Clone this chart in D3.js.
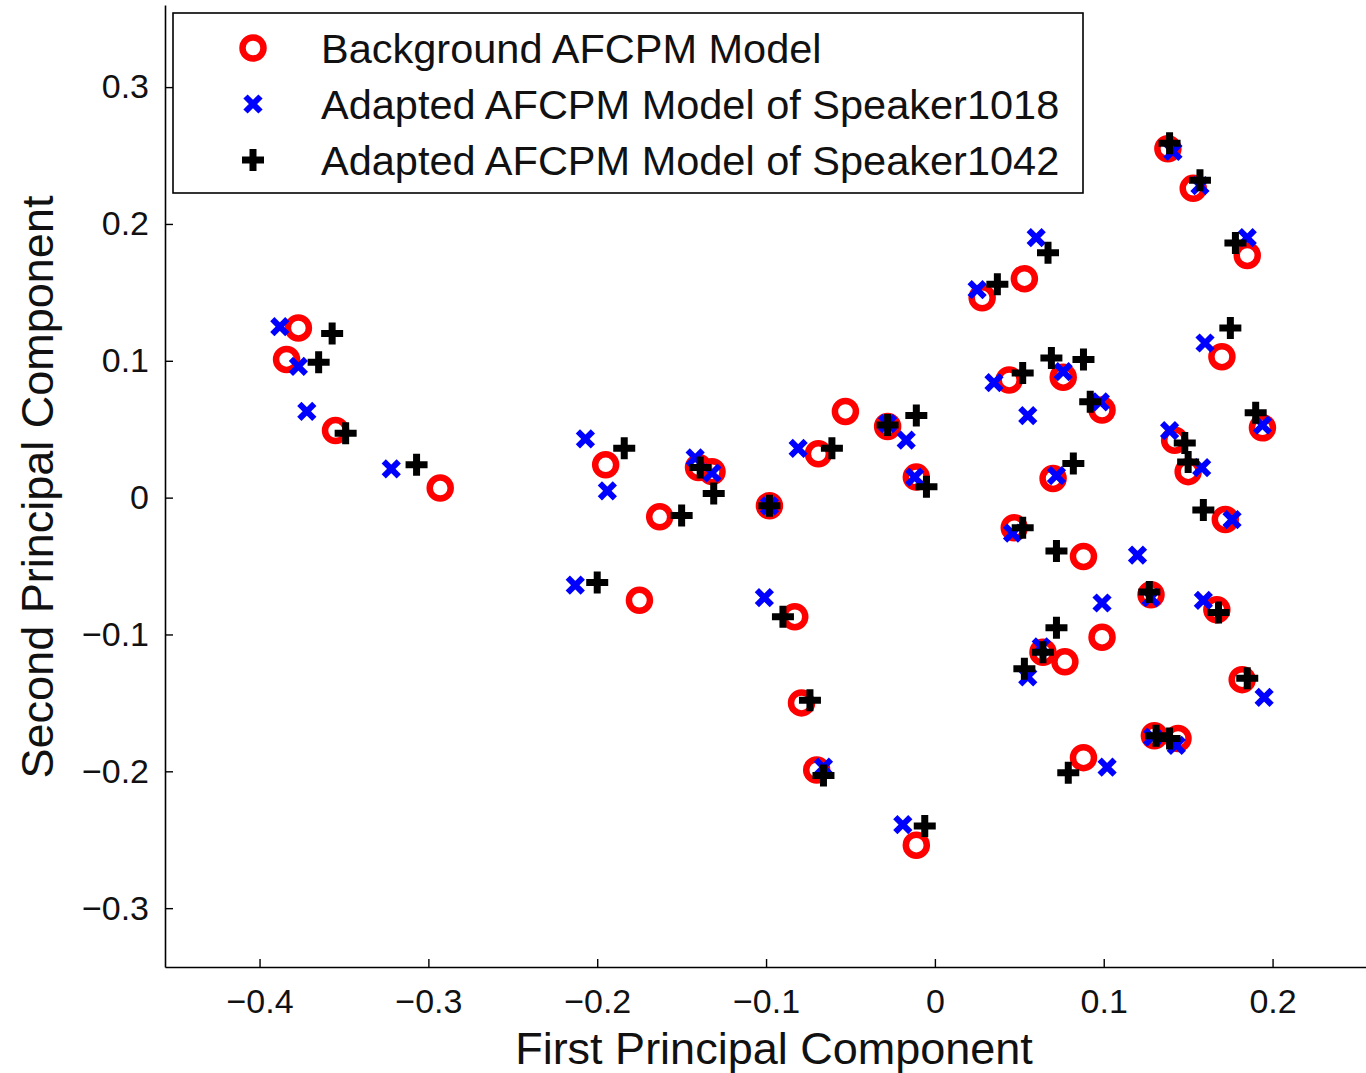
<!DOCTYPE html>
<html>
<head>
<meta charset="utf-8">
<script src="https://cdn.jsdelivr.net/npm/d3@7"></script>
<style>
  html, body { margin: 0; padding: 0; background: #fff; }
  svg { display: block; font-family: "Liberation Sans", Arial, sans-serif; }
</style>
</head>
<body>
<div id="chart"></div>
<script>
// series values, [first PC, second PC]
const backgroundModel = [
  [-0.377, 0.124], [-0.384, 0.101], [-0.355, 0.049], [-0.293, 0.007],
  [-0.195, 0.024], [-0.163, -0.014], [-0.175, -0.075], [-0.140, 0.022],
  [-0.132, 0.019], [-0.098, -0.006], [-0.069, 0.032], [-0.053, 0.063],
  [-0.028, 0.052], [-0.011, 0.015], [-0.083, -0.087], [-0.079, -0.150],
  [-0.070, -0.199], [-0.011, -0.254], [0.028, 0.146], [0.053, 0.160],
  [0.138, 0.255], [0.153, 0.226], [0.185, 0.177], [0.044, 0.086],
  [0.076, 0.088], [0.099, 0.064], [0.170, 0.103], [0.194, 0.051],
  [0.142, 0.042], [0.150, 0.019], [0.070, 0.014], [0.047, -0.022],
  [0.088, -0.043], [0.172, -0.016], [0.128, -0.071], [0.167, -0.082],
  [0.064, -0.113], [0.077, -0.120], [0.099, -0.102], [0.182, -0.133],
  [0.130, -0.174], [0.144, -0.176], [0.088, -0.190]
];

const speaker1018 = [
  [-0.388, 0.125], [-0.377, 0.096], [-0.372, 0.063], [-0.322, 0.021],
  [-0.207, 0.043], [-0.194, 0.005], [-0.213, -0.064], [-0.142, 0.029],
  [-0.132, 0.018], [-0.098, -0.006], [-0.101, -0.073], [-0.081, 0.036],
  [-0.028, 0.054], [-0.017, 0.042], [-0.012, 0.015], [-0.066, -0.197],
  [-0.019, -0.239], [0.025, 0.152], [0.060, 0.190], [0.141, 0.253],
  [0.157, 0.228], [0.185, 0.190], [0.160, 0.113], [0.035, 0.084],
  [0.076, 0.092], [0.098, 0.070], [0.055, 0.060], [0.139, 0.049],
  [0.194, 0.053], [0.158, 0.022], [0.072, 0.016], [0.176, -0.016],
  [0.046, -0.026], [0.120, -0.042], [0.128, -0.073], [0.159, -0.075],
  [0.099, -0.077], [0.063, -0.109], [0.055, -0.131], [0.195, -0.146],
  [0.129, -0.175], [0.143, -0.181], [0.102, -0.197]
];

const speaker1042 = [
  [-0.357, 0.120], [-0.365, 0.099], [-0.349, 0.047], [-0.307, 0.024],
  [-0.184, 0.036], [-0.200, -0.062], [-0.139, 0.022], [-0.131, 0.003],
  [-0.150, -0.013], [-0.098, -0.006], [-0.061, 0.036], [-0.028, 0.053],
  [-0.011, 0.060], [-0.005, 0.008], [-0.090, -0.087], [-0.074, -0.148],
  [-0.066, -0.203], [-0.006, -0.240], [0.139, 0.259], [0.157, 0.232],
  [0.178, 0.186], [0.067, 0.179], [0.037, 0.156], [0.175, 0.124],
  [0.052, 0.091], [0.069, 0.102], [0.088, 0.101], [0.092, 0.070],
  [0.190, 0.062], [0.148, 0.040], [0.150, 0.026], [0.082, 0.025],
  [0.052, -0.022], [0.159, -0.009], [0.072, -0.039], [0.127, -0.069],
  [0.168, -0.084], [0.072, -0.095], [0.064, -0.113], [0.053, -0.125],
  [0.185, -0.132], [0.131, -0.174], [0.139, -0.176], [0.079, -0.201]
];

const xTicks = [-0.4, -0.3, -0.2, -0.1, 0, 0.1, 0.2];
const yTicks = [-0.3, -0.2, -0.1, 0, 0.1, 0.2, 0.3];
const legendLabels = [
  "Background AFCPM Model",
  "Adapted AFCPM Model of Speaker1018",
  "Adapted AFCPM Model of Speaker1042"
];

const W = 1366, H = 1073;

const svg = d3.select("#chart").append("svg")
  .attr("width", W)
  .attr("height", H);

const x = d3.scaleLinear().domain([-0.456, 0.266]).range([165, 1384]);
const y = d3.scaleLinear().domain([-0.343, 0.36]).range([967, 5]);

const fmt = d => d === 0 ? "0" : d3.format(".1f")(d);

// axes, ticks point inward
const gx = svg.append("g")
  .attr("transform", `translate(0,${y.range()[0]})`)
  .call(d3.axisBottom(x).tickValues(xTicks).tickFormat(fmt)
    .tickSizeInner(-8).tickSizeOuter(0).tickPadding(22));

const gy = svg.append("g")
  .attr("transform", `translate(${x.range()[0]},0)`)
  .call(d3.axisLeft(y).tickValues(yTicks).tickFormat(fmt)
    .tickSizeInner(-8).tickSizeOuter(0).tickPadding(16));

[gx, gy].forEach(g => {
  g.select(".domain").attr("stroke", "#000").attr("stroke-width", 1.6);
  g.selectAll(".tick line").attr("stroke", "#000").attr("stroke-width", 1.4);
  g.selectAll(".tick text")
    .attr("fill", "#111")
    .style("font-size", "34px")
    .style("font-family", "'Liberation Sans', Arial, sans-serif");
});

// axis titles
svg.append("text")
  .attr("x", 774)
  .attr("y", 1064)
  .attr("text-anchor", "middle")
  .style("font-size", "45px")
  .attr("fill", "#111")
  .text("First Principal Component");

svg.append("text")
  .attr("transform", `translate(53,487) rotate(-90)`)
  .attr("text-anchor", "middle")
  .style("font-size", "45px")
  .attr("fill", "#111")
  .text("Second Principal Component");

// marker shapes
function drawCircle(sel) {
  sel.append("circle")
    .attr("r", 10.5)
    .attr("fill", "none")
    .attr("stroke", "#ff0000")
    .attr("stroke-width", 6.5);
}
function drawCross(sel) {
  sel.append("path")
    .attr("d", "M-7.5,-7.5L7.5,7.5M-7.5,7.5L7.5,-7.5")
    .attr("stroke", "#0000ff")
    .attr("stroke-width", 6)
    .attr("fill", "none");
}
function drawPlus(sel) {
  sel.append("path")
    .attr("d", "M-11,0L11,0M0,-11L0,11")
    .attr("stroke", "#000")
    .attr("stroke-width", 7)
    .attr("fill", "none");
}

const series = [
  { data: backgroundModel, draw: drawCircle },
  { data: speaker1018, draw: drawCross },
  { data: speaker1042, draw: drawPlus }
];

series.forEach(s => {
  svg.append("g").selectAll("g")
    .data(s.data)
    .join("g")
    .attr("transform", d => `translate(${x(d[0])},${y(d[1])})`)
    .each(function () { s.draw(d3.select(this)); });
});

// legend
const legend = svg.append("g");
legend.append("rect")
  .attr("x", 173).attr("y", 13)
  .attr("width", 910).attr("height", 180)
  .attr("fill", "#fff")
  .attr("stroke", "#000")
  .attr("stroke-width", 1.6);

legendLabels.forEach((label, i) => {
  const row = legend.append("g").attr("transform", `translate(0,${48 + i * 56})`);
  const m = row.append("g").attr("transform", "translate(253,0)");
  series[i].draw(m);
  row.append("text")
    .attr("x", 321)
    .attr("y", 15)
    .style("font-size", "41.5px")
    .attr("fill", "#111")
    .text(label);
});
</script>
</body>
</html>
